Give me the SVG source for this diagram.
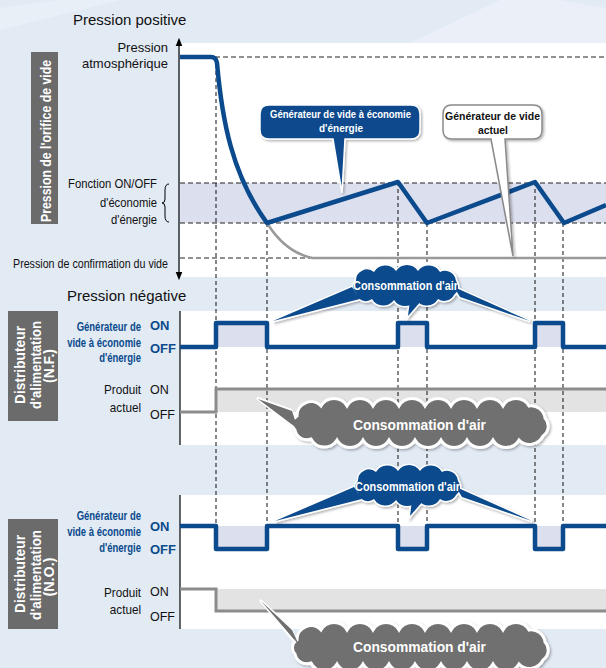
<svg xmlns="http://www.w3.org/2000/svg" width="606" height="668" viewBox="0 0 606 668">
<style>
text{font-family:"Liberation Sans",Arial,sans-serif;}
.lbl{font-size:13px;fill:#111;}
.lbn{font-size:12.5px;fill:#111;}
.big{font-size:15px;fill:#111;}
.bl{font-size:12.5px;font-weight:bold;fill:#0b4a8c;}
.onb{font-size:13px;font-weight:bold;fill:#0b4a8c;}
.onk{font-size:12.5px;fill:#111;}
.box{fill:#6b6b6b;}
.bt{font-size:15px;font-weight:bold;fill:#fff;}
.ct{font-weight:bold;fill:#fff;}
.panel{fill:#fff;}
.vd{stroke:#111;stroke-width:1;stroke-dasharray:4 3;fill:none;}
.hd{stroke:#222;stroke-width:1.2;stroke-dasharray:5 3;fill:none;}
.sig{fill:none;stroke:#0b4a8c;stroke-width:4.5;stroke-linejoin:round;}
.gsig{fill:none;stroke:#8c8c8c;stroke-width:3;}
.pulse{fill:#dcdfee;}
.gband{fill:#e3e3e3;}
</style>
<defs>
<filter id="sh" x="-20%" y="-20%" width="140%" height="140%">
<feDropShadow dx="1.5" dy="1.5" stdDeviation="1.2" flood-color="#000" flood-opacity="0.3"/>
</filter>
<marker id="ah" viewBox="0 0 10 10" refX="5" refY="5" markerWidth="7" markerHeight="7" orient="auto-start-reverse">
<path d="M0,1 L10,5 L0,9 Z" fill="#000"/>
</marker>
<g id="cloudB">
<path d="M8,16 A11,11 0 0 1 26,7 A13,13 0 0 1 48,6 A13,13 0 0 1 70,6 A13,13 0 0 1 92,7 A11,11 0 0 1 108,16 A10,10 0 0 1 106,30 A11,11 0 0 1 90,34 A13,13 0 0 1 68,35 A13,13 0 0 1 46,35 A13,13 0 0 1 24,34 A10,10 0 0 1 8,28 A8,8 0 0 1 8,16 Z"/>
<polygon points="4,22 12,34 -75,56"/>
<polygon points="62,35 74,35 60,51"/>
<polygon points="106,22 112,32 182,56"/>
</g>
<path id="cloudG" d="M10,18 A14,14 0 0 1 34,8 A15,15 0 0 1 60,8 A15,15 0 0 1 86,8 A15,15 0 0 1 112,8 A15,15 0 0 1 138,8 A15,15 0 0 1 164,8 A15,15 0 0 1 190,8 A15,15 0 0 1 216,8 A15,15 0 0 1 242,8 A14,14 0 0 1 258,20 A12,12 0 0 1 256,38 A15,15 0 0 1 232,42 A15,15 0 0 1 206,42 A15,15 0 0 1 180,42 A15,15 0 0 1 154,42 A15,15 0 0 1 128,42 A15,15 0 0 1 102,42 A15,15 0 0 1 76,42 A15,15 0 0 1 50,42 A15,15 0 0 1 24,41 A12,12 0 0 1 8,32 A9,9 0 0 1 10,18 Z"/>
</defs>

<g id="background">
<rect x="0" y="0" width="606" height="668" fill="#e2eaf4"/>
<polygon points="410,43 606,43 606,8 560,0 500,0" fill="#ebf0f8"/>
<polygon points="0,30 0,8 60,0 120,0" fill="#e9eff7"/>
<rect class="panel" x="180" y="43" width="426" height="234"/>
<rect class="panel" x="180" y="311" width="426" height="134"/>
<rect class="panel" x="180" y="495" width="426" height="134"/>
<rect class="pulse" x="180" y="183" width="426" height="40"/>
<rect class="pulse" x="216" y="323" width="51" height="24"/>
<rect class="pulse" x="398" y="323" width="29" height="24"/>
<rect class="pulse" x="535" y="323" width="28" height="24"/>
<rect class="pulse" x="216" y="526" width="51" height="23"/>
<rect class="pulse" x="398" y="526" width="29" height="23"/>
<rect class="pulse" x="535" y="526" width="28" height="23"/>
<rect class="gband" x="216" y="389" width="390" height="23"/>
<rect class="gband" x="216" y="589" width="390" height="21"/>
</g>

<g id="connectors">
<line x1="179" y1="276" x2="179" y2="42" stroke="#000" stroke-width="1.2" marker-start="url(#ah)" marker-end="url(#ah)"/>
<line x1="180" y1="311" x2="180" y2="445" stroke="#000" stroke-width="1.2"/>
<line x1="180" y1="495" x2="180" y2="629" stroke="#000" stroke-width="1.2"/>
<line class="hd" x1="215" y1="57" x2="606" y2="57" stroke="#555"/>
<line class="hd" x1="180" y1="183" x2="606" y2="183"/>
<line class="hd" x1="180" y1="223" x2="606" y2="223"/>
<line class="hd" x1="180" y1="258" x2="310" y2="258"/>
<path d="M169,184 Q165,184 165,190 L165,199 Q165,203 162,203 Q165,203 165,207 L165,216 Q165,222 169,222" fill="none" stroke="#000" stroke-width="1"/>
<line class="vd" x1="216" y1="57" x2="216" y2="549"/>
<line class="vd" x1="267" y1="223" x2="267" y2="526"/>
<line class="vd" x1="398" y1="182" x2="398" y2="526"/>
<line class="vd" x1="427" y1="223" x2="427" y2="526"/>
<line class="vd" x1="535" y1="182" x2="535" y2="526"/>
<line class="vd" x1="563" y1="223" x2="563" y2="526"/>
<path d="M267,223 Q285,252 312,258 L606,258" fill="none" stroke="#9a9a9a" stroke-width="2.5"/>
<path class="sig" d="M180,57 L211,57 Q216,57 217,63 C222,120 232,175 267,223 L398,182 L427,223 L535,182 L564,223 L606,205"/>
<path class="sig" d="M180,347 H216 V323 H267 V347 H398 V323 H427 V347 H535 V323 H563 V347 H606"/>
<path class="gsig" d="M180,412 H216 V389 H606"/>
<path class="sig" d="M180,526 H216 V549 H267 V526 H398 V549 H427 V526 H535 V549 H563 V526 H606"/>
<path class="gsig" d="M180,589 H216 V611 H606"/>
</g>

<g id="labels">
<text class="big" x="73" y="25">Pression positive</text>
<text class="big" x="67" y="301">Pression négative</text>
<text class="lbl" x="168" y="52" text-anchor="end">Pression</text>
<text class="lbl" x="168" y="68" text-anchor="end">atmosphérique</text>
<text class="lbn" x="68" y="188" textLength="89" lengthAdjust="spacingAndGlyphs">Fonction ON/OFF</text>
<text class="lbn" x="100" y="207" textLength="57" lengthAdjust="spacingAndGlyphs">d'économie</text>
<text class="lbn" x="111" y="224" textLength="46" lengthAdjust="spacingAndGlyphs">d'énergie</text>
<text class="lbn" x="13" y="268" textLength="155" lengthAdjust="spacingAndGlyphs">Pression de confirmation du vide</text>
</g>

<g id="node-box-vide">
<rect class="box" x="31" y="52" width="27" height="172"/>
<text class="bt" transform="translate(51,141) rotate(-90)" text-anchor="middle" textLength="162" lengthAdjust="spacingAndGlyphs">Pression de l'orifice de vide</text>
</g>

<g id="node-box-nf">
<rect class="box" x="8" y="311" width="50" height="110"/>
<text class="bt" transform="translate(25,365) rotate(-90)" text-anchor="middle" textLength="78" lengthAdjust="spacingAndGlyphs">Distributeur</text>
<text class="bt" transform="translate(41,365) rotate(-90)" text-anchor="middle" textLength="88" lengthAdjust="spacingAndGlyphs">d'alimentation</text>
<text class="bt" transform="translate(54,366) rotate(-90)" text-anchor="middle" textLength="34" lengthAdjust="spacingAndGlyphs">(N.F.)</text>
</g>

<g id="node-box-no">
<rect class="box" x="8" y="519" width="50" height="110"/>
<text class="bt" transform="translate(25,574) rotate(-90)" text-anchor="middle" textLength="78" lengthAdjust="spacingAndGlyphs">Distributeur</text>
<text class="bt" transform="translate(41,575) rotate(-90)" text-anchor="middle" textLength="90" lengthAdjust="spacingAndGlyphs">d'alimentation</text>
<text class="bt" transform="translate(54,577) rotate(-90)" text-anchor="middle" textLength="39" lengthAdjust="spacingAndGlyphs">(N.O.)</text>
</g>

<g id="node-nf-labels">
<text class="bl" transform="translate(141,331) scale(0.76,1)" text-anchor="end">Générateur de</text>
<text class="bl" transform="translate(141,347) scale(0.76,1)" text-anchor="end">vide à économie</text>
<text class="bl" transform="translate(141,362) scale(0.76,1)" text-anchor="end">d'énergie</text>
<text class="onb" x="150" y="330">ON</text>
<text class="onb" x="150" y="353">OFF</text>
<text class="lbl" transform="translate(141,394) scale(0.9,1)" text-anchor="end">Produit</text>
<text class="lbl" transform="translate(141,412) scale(0.9,1)" text-anchor="end">actuel</text>
<text class="onk" x="150" y="394">ON</text>
<text class="onk" x="150" y="419">OFF</text>
</g>

<g id="node-no-labels">
<text class="bl" transform="translate(141,520) scale(0.76,1)" text-anchor="end">Générateur de</text>
<text class="bl" transform="translate(141,536) scale(0.76,1)" text-anchor="end">vide à économie</text>
<text class="bl" transform="translate(141,552) scale(0.76,1)" text-anchor="end">d'énergie</text>
<text class="onb" x="150" y="531">ON</text>
<text class="onb" x="150" y="554">OFF</text>
<text class="lbl" transform="translate(141,597) scale(0.9,1)" text-anchor="end">Produit</text>
<text class="lbl" transform="translate(141,614) scale(0.9,1)" text-anchor="end">actuel</text>
<text class="onk" x="150" y="596">ON</text>
<text class="onk" x="150" y="621">OFF</text>
</g>

<g id="node-callout-eco">
<path d="M269,105 H411 Q420,105 420,114 V130 Q420,139 411,139 H345 L342,193 L333,139 H269 Q260,139 260,130 V114 Q260,105 269,105 Z" fill="#0b4a8c" stroke="#fff" stroke-width="1.5" filter="url(#sh)"/>
<text class="ct" x="270" y="118" font-size="11.5" textLength="141" lengthAdjust="spacingAndGlyphs">Générateur de vide à économie</text>
<text class="ct" x="319" y="132" font-size="11.5" textLength="44" lengthAdjust="spacingAndGlyphs">d'énergie</text>
</g>

<g id="node-callout-actuel">
<path d="M452,105 H533 Q542,105 542,114 V130 Q542,139 533,139 H505 L513,256 L491,139 H452 Q443,139 443,130 V114 Q443,105 452,105 Z" fill="#fff" stroke="#8a8a8a" stroke-width="1.5" filter="url(#sh)"/>
<text x="445" y="120" font-size="11.5" font-weight="bold" fill="#111" textLength="95" lengthAdjust="spacingAndGlyphs">Générateur de vide</text>
<text x="478" y="134" font-size="11.5" font-weight="bold" fill="#111" textLength="30" lengthAdjust="spacingAndGlyphs">actuel</text>
</g>

<g id="node-cloud-nf-blue" transform="translate(348,265)">
<use href="#cloudB" fill="#0b4a8c" stroke="#fff" stroke-width="3" filter="url(#sh)"/>
<use href="#cloudB" fill="#0b4a8c"/>
<text class="ct" x="5" y="25" font-size="13.5" textLength="105" lengthAdjust="spacingAndGlyphs">Consommation d'air</text>
</g>

<g id="node-cloud-no-blue" transform="translate(350,465)">
<use href="#cloudB" fill="#0b4a8c" stroke="#fff" stroke-width="3" filter="url(#sh)"/>
<use href="#cloudB" fill="#0b4a8c"/>
<text class="ct" x="5" y="26" font-size="13.5" textLength="105" lengthAdjust="spacingAndGlyphs">Consommation d'air</text>
</g>

<g id="node-cloud-nf-gray">
<polygon points="291,410 297,430 257,398" fill="#6f6f6f" stroke="#fff" stroke-width="2.5"/>
<use href="#cloudG" transform="translate(287,398)" fill="#6f6f6f" stroke="#fff" stroke-width="3" filter="url(#sh)"/>
<polygon points="292,411 298,429 258,399" fill="#6f6f6f"/>
<text class="ct" x="353" y="430" font-size="15.5" textLength="133" lengthAdjust="spacingAndGlyphs">Consommation d'air</text>
</g>

<g id="node-cloud-no-gray">
<polygon points="291,628 298,646 260,600" fill="#6f6f6f" stroke="#fff" stroke-width="2.5"/>
<use href="#cloudG" transform="translate(287,622)" fill="#6f6f6f" stroke="#fff" stroke-width="3" filter="url(#sh)"/>
<polygon points="292,630 299,645 261,601" fill="#6f6f6f"/>
<text class="ct" x="353" y="652" font-size="15.5" textLength="133" lengthAdjust="spacingAndGlyphs">Consommation d'air</text>
</g>
</svg>
